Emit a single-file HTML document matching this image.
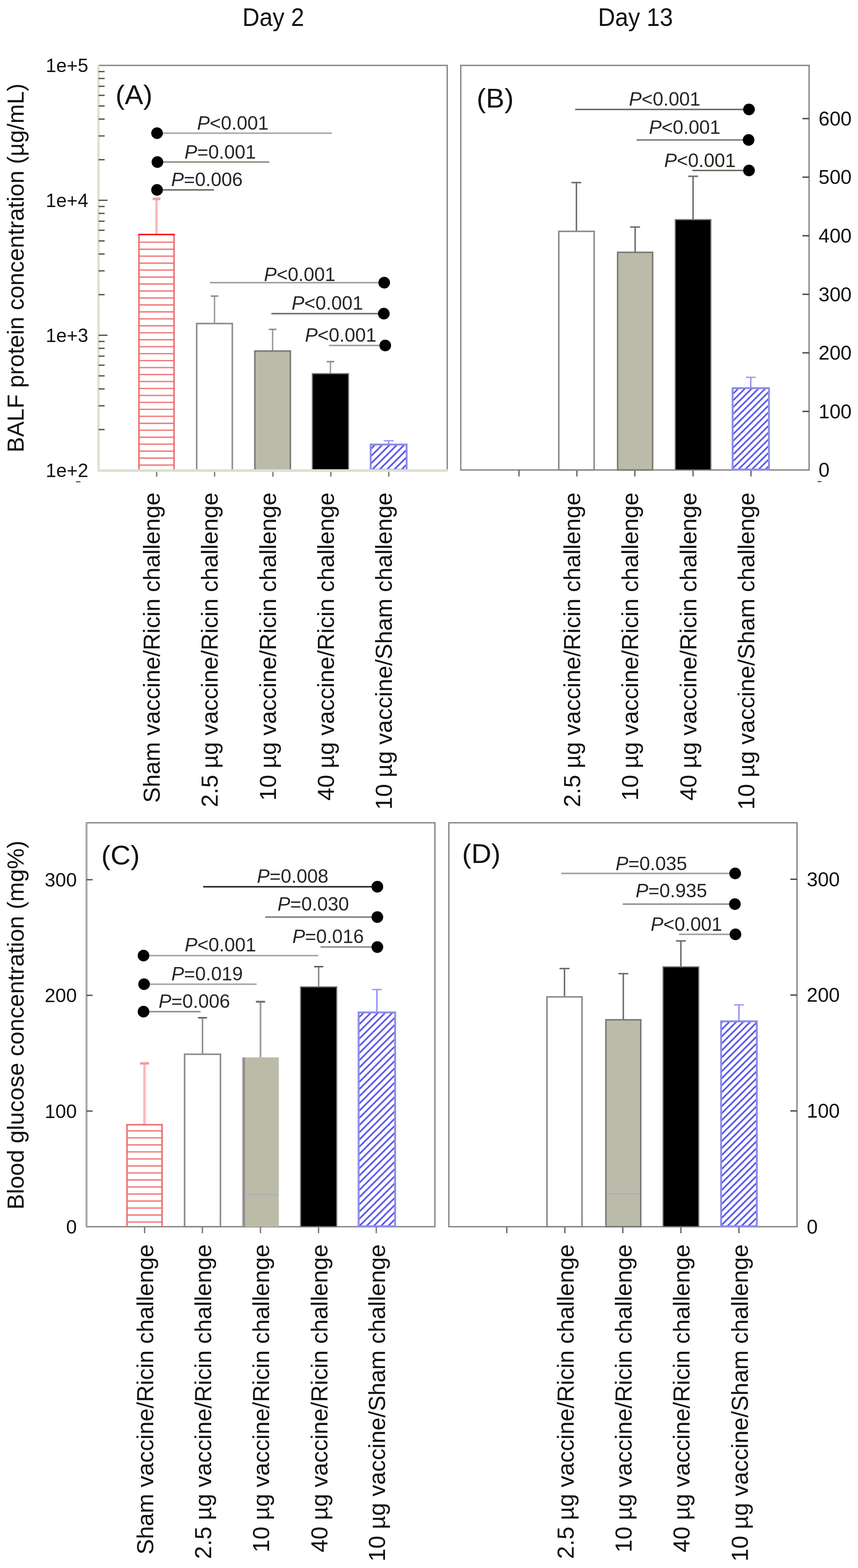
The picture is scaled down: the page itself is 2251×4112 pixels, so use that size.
<!DOCTYPE html>
<html><head><meta charset="utf-8"><title>BALF protein and blood glucose</title>
<style>
html,body{margin:0;padding:0;background:#fff;}
svg{display:block;}
text{font-family:"Liberation Sans", Arial, sans-serif;fill:#111;}
</style></head><body>
<svg width="2251" height="4112" viewBox="0 0 2251 4112">
<defs>
<pattern id="hbA" patternUnits="userSpaceOnUse" width="19.2" height="19.2">
<path d="M-4.80,4.80 l9.60,-9.60 M0,19.2 l19.2,-19.2 M14.40,24.00 l9.60,-9.60" stroke="#5656ee" stroke-width="4.3"/>
</pattern>
<pattern id="hbB" patternUnits="userSpaceOnUse" width="17.7" height="17.7">
<path d="M-4.42,4.42 l8.85,-8.85 M0,17.7 l17.7,-17.7 M13.27,22.12 l8.85,-8.85" stroke="#5656ee" stroke-width="4.3"/>
</pattern>
<pattern id="hbC" patternUnits="userSpaceOnUse" width="18.9" height="18.9">
<path d="M-4.72,4.72 l9.45,-9.45 M0,18.9 l18.9,-18.9 M14.17,23.62 l9.45,-9.45" stroke="#5656ee" stroke-width="4.3"/>
</pattern>
<pattern id="hbD" patternUnits="userSpaceOnUse" width="18.3" height="18.3">
<path d="M-4.58,4.58 l9.15,-9.15 M0,18.3 l18.3,-18.3 M13.73,22.88 l9.15,-9.15" stroke="#5656ee" stroke-width="4.3"/>
</pattern>
</defs>
<rect width="2251" height="4112" fill="#fff"/>

<text transform="translate(636,67.5) scale(1,1.07)" font-size="62">Day 2</text>
<text transform="translate(1569,67.5) scale(1,1.07)" font-size="62">Day 13</text>
<line x1="258.5" y1="171.5" x2="1175.0" y2="171.5" stroke="#858585" stroke-width="3.5"/>
<line x1="1173.3" y1="171.5" x2="1173.3" y2="1233.0" stroke="#858585" stroke-width="3.5"/>
<line x1="258.5" y1="171.5" x2="258.5" y2="1237.0" stroke="#e0e0d0" stroke-width="6"/>
<line x1="258.5" y1="1126.5" x2="274.5" y2="1126.5" stroke="#555" stroke-width="3.5"/>
<line x1="258.5" y1="1064.2" x2="274.5" y2="1064.2" stroke="#555" stroke-width="3.5"/>
<line x1="258.5" y1="1020.0" x2="274.5" y2="1020.0" stroke="#555" stroke-width="3.5"/>
<line x1="258.5" y1="985.7" x2="274.5" y2="985.7" stroke="#555" stroke-width="3.5"/>
<line x1="258.5" y1="957.7" x2="274.5" y2="957.7" stroke="#555" stroke-width="3.5"/>
<line x1="258.5" y1="934.0" x2="274.5" y2="934.0" stroke="#555" stroke-width="3.5"/>
<line x1="258.5" y1="913.5" x2="274.5" y2="913.5" stroke="#555" stroke-width="3.5"/>
<line x1="258.5" y1="895.4" x2="274.5" y2="895.4" stroke="#555" stroke-width="3.5"/>
<line x1="258.5" y1="879.2" x2="282.0" y2="879.2" stroke="#555" stroke-width="3.5"/>
<line x1="258.5" y1="772.7" x2="274.5" y2="772.7" stroke="#555" stroke-width="3.5"/>
<line x1="258.5" y1="710.3" x2="274.5" y2="710.3" stroke="#555" stroke-width="3.5"/>
<line x1="258.5" y1="666.1" x2="274.5" y2="666.1" stroke="#555" stroke-width="3.5"/>
<line x1="258.5" y1="631.8" x2="274.5" y2="631.8" stroke="#555" stroke-width="3.5"/>
<line x1="258.5" y1="603.8" x2="274.5" y2="603.8" stroke="#555" stroke-width="3.5"/>
<line x1="258.5" y1="580.1" x2="274.5" y2="580.1" stroke="#555" stroke-width="3.5"/>
<line x1="258.5" y1="559.6" x2="274.5" y2="559.6" stroke="#555" stroke-width="3.5"/>
<line x1="258.5" y1="541.5" x2="274.5" y2="541.5" stroke="#555" stroke-width="3.5"/>
<line x1="258.5" y1="525.3" x2="282.0" y2="525.3" stroke="#555" stroke-width="3.5"/>
<line x1="258.5" y1="418.8" x2="274.5" y2="418.8" stroke="#555" stroke-width="3.5"/>
<line x1="258.5" y1="356.5" x2="274.5" y2="356.5" stroke="#555" stroke-width="3.5"/>
<line x1="258.5" y1="312.3" x2="274.5" y2="312.3" stroke="#555" stroke-width="3.5"/>
<line x1="258.5" y1="278.0" x2="274.5" y2="278.0" stroke="#555" stroke-width="3.5"/>
<line x1="258.5" y1="250.0" x2="274.5" y2="250.0" stroke="#555" stroke-width="3.5"/>
<line x1="258.5" y1="226.3" x2="274.5" y2="226.3" stroke="#555" stroke-width="3.5"/>
<line x1="258.5" y1="205.8" x2="274.5" y2="205.8" stroke="#555" stroke-width="3.5"/>
<line x1="258.5" y1="187.7" x2="274.5" y2="187.7" stroke="#555" stroke-width="3.5"/>
<text x="231.5" y="189.1" font-size="49.5" text-anchor="end" >1e+5</text>
<text x="231.5" y="542.9" font-size="49.5" text-anchor="end" >1e+4</text>
<text x="231.5" y="896.8" font-size="49.5" text-anchor="end" >1e+3</text>
<text x="231.5" y="1250.6" font-size="49.5" text-anchor="end" >1e+2</text>
<line x1="411.0" y1="1235.0" x2="411.0" y2="1250.0" stroke="#7a7a7a" stroke-width="3.5"/>
<line x1="563.0" y1="1235.0" x2="563.0" y2="1250.0" stroke="#7a7a7a" stroke-width="3.5"/>
<line x1="716.0" y1="1235.0" x2="716.0" y2="1250.0" stroke="#7a7a7a" stroke-width="3.5"/>
<line x1="868.0" y1="1235.0" x2="868.0" y2="1250.0" stroke="#7a7a7a" stroke-width="3.5"/>
<line x1="1020.0" y1="1235.0" x2="1020.0" y2="1250.0" stroke="#7a7a7a" stroke-width="3.5"/>
<line x1="410.6" y1="615.0" x2="410.6" y2="521.5" stroke="#ffb8b8" stroke-width="6.5"/>
<line x1="400.6" y1="521.5" x2="420.6" y2="521.5" stroke="#f59a9a" stroke-width="6.5"/>
<g stroke="#f27c7c" stroke-width="3.6">
<line x1="364.5" y1="635.3" x2="456.6" y2="635.3"/>
<line x1="364.5" y1="653.6" x2="456.6" y2="653.6"/>
<line x1="364.5" y1="671.8" x2="456.6" y2="671.8"/>
<line x1="364.5" y1="690.1" x2="456.6" y2="690.1"/>
<line x1="364.5" y1="708.3" x2="456.6" y2="708.3"/>
<line x1="364.5" y1="726.6" x2="456.6" y2="726.6"/>
<line x1="364.5" y1="744.9" x2="456.6" y2="744.9"/>
<line x1="364.5" y1="763.1" x2="456.6" y2="763.1"/>
<line x1="364.5" y1="781.4" x2="456.6" y2="781.4"/>
<line x1="364.5" y1="799.6" x2="456.6" y2="799.6"/>
<line x1="364.5" y1="817.9" x2="456.6" y2="817.9"/>
<line x1="364.5" y1="836.2" x2="456.6" y2="836.2"/>
<line x1="364.5" y1="854.4" x2="456.6" y2="854.4"/>
<line x1="364.5" y1="872.7" x2="456.6" y2="872.7"/>
<line x1="364.5" y1="890.9" x2="456.6" y2="890.9"/>
<line x1="364.5" y1="909.2" x2="456.6" y2="909.2"/>
<line x1="364.5" y1="927.5" x2="456.6" y2="927.5"/>
<line x1="364.5" y1="945.7" x2="456.6" y2="945.7"/>
<line x1="364.5" y1="964.0" x2="456.6" y2="964.0"/>
<line x1="364.5" y1="982.2" x2="456.6" y2="982.2"/>
<line x1="364.5" y1="1000.5" x2="456.6" y2="1000.5"/>
<line x1="364.5" y1="1018.8" x2="456.6" y2="1018.8"/>
<line x1="364.5" y1="1037.0" x2="456.6" y2="1037.0"/>
<line x1="364.5" y1="1055.3" x2="456.6" y2="1055.3"/>
<line x1="364.5" y1="1073.5" x2="456.6" y2="1073.5"/>
<line x1="364.5" y1="1091.8" x2="456.6" y2="1091.8"/>
<line x1="364.5" y1="1110.1" x2="456.6" y2="1110.1"/>
<line x1="364.5" y1="1128.3" x2="456.6" y2="1128.3"/>
<line x1="364.5" y1="1146.6" x2="456.6" y2="1146.6"/>
<line x1="364.5" y1="1164.8" x2="456.6" y2="1164.8"/>
<line x1="364.5" y1="1183.1" x2="456.6" y2="1183.1"/>
<line x1="364.5" y1="1201.4" x2="456.6" y2="1201.4"/>
<line x1="364.5" y1="1219.6" x2="456.6" y2="1219.6"/>
</g>
<line x1="364.5" y1="615.0" x2="364.5" y2="1233.0" stroke="#ec6f6f" stroke-width="4"/>
<line x1="456.6" y1="615.0" x2="456.6" y2="1233.0" stroke="#ec6f6f" stroke-width="4"/>
<line x1="362.5" y1="615.0" x2="458.6" y2="615.0" stroke="#ff1010" stroke-width="4"/>
<line x1="562.8" y1="848.5" x2="562.8" y2="776.5" stroke="#9c9c9c" stroke-width="3.8"/>
<line x1="552.8" y1="776.5" x2="572.8" y2="776.5" stroke="#8a8a8a" stroke-width="3.8"/>
<rect x="516.0" y="848.5" width="93.5" height="384.5" fill="#fff" stroke="#8a8a8a" stroke-width="4"/>
<line x1="715.2" y1="920.5" x2="715.2" y2="863.8" stroke="#9c9c9c" stroke-width="3.8"/>
<line x1="705.2" y1="863.8" x2="725.2" y2="863.8" stroke="#8a8a8a" stroke-width="3.8"/>
<rect x="668.6" y="920.5" width="93.1" height="312.5" fill="#bbbbab" stroke="#7a7a72" stroke-width="4"/>
<line x1="867.0" y1="979.8" x2="867.0" y2="948.3" stroke="#9c9c9c" stroke-width="3.8"/>
<line x1="857.0" y1="948.3" x2="877.0" y2="948.3" stroke="#8a8a8a" stroke-width="3.8"/>
<rect x="819.4" y="979.8" width="95.1" height="253.2" fill="#000" stroke="#7a7a7a" stroke-width="3"/>
<line x1="1019.6" y1="1165.8" x2="1019.6" y2="1155.8" stroke="#8a8af5" stroke-width="3.5"/>
<line x1="1006.6" y1="1155.8" x2="1032.7" y2="1155.8" stroke="#9a9af8" stroke-width="3.5"/>
<rect x="972.5" y="1165.8" width="94.3" height="66.2" fill="url(#hbA)" stroke="#8c8ce8" stroke-width="5"/>
<line x1="258.5" y1="1234.0" x2="1175.0" y2="1234.0" stroke="#dfdfcf" stroke-width="7"/>
<text transform="translate(303.0,272.5) scale(1.04,1)" font-size="70">(A)</text>
<line x1="412.0" y1="349.3" x2="870.5" y2="349.3" stroke="#a9a9a1" stroke-width="4"/>
<circle cx="412.0" cy="349.3" r="15.3" fill="#000"/>
<line x1="414.0" y1="425.0" x2="706.4" y2="425.0" stroke="#909080" stroke-width="4"/>
<circle cx="413.0" cy="425.0" r="15.3" fill="#000"/>
<line x1="412.0" y1="498.0" x2="561.4" y2="498.0" stroke="#707060" stroke-width="4"/>
<circle cx="412.0" cy="498.0" r="15.3" fill="#000"/>
<text x="517.0" y="340.0" font-size="50" style="fill:#262626"><tspan font-style="italic">P</tspan>&lt;0.001</text>
<text x="484.0" y="415.7" font-size="50" style="fill:#262626"><tspan font-style="italic">P</tspan>=0.001</text>
<text x="449.0" y="487.6" font-size="50" style="fill:#262626"><tspan font-style="italic">P</tspan>=0.006</text>
<line x1="551.0" y1="741.3" x2="1008.0" y2="741.3" stroke="#a0a0a0" stroke-width="4"/>
<circle cx="1008.0" cy="741.3" r="15.3" fill="#000"/>
<line x1="712.0" y1="822.5" x2="1007.0" y2="822.5" stroke="#707060" stroke-width="4"/>
<circle cx="1007.0" cy="822.5" r="15.3" fill="#000"/>
<line x1="863.0" y1="906.0" x2="1010.7" y2="906.0" stroke="#a0a098" stroke-width="4"/>
<circle cx="1010.7" cy="906.0" r="15.3" fill="#000"/>
<text x="692.5" y="737.4" font-size="50" style="fill:#262626"><tspan font-style="italic">P</tspan>&lt;0.001</text>
<text x="765.0" y="812.0" font-size="50" style="fill:#262626"><tspan font-style="italic">P</tspan>&lt;0.001</text>
<text x="800.0" y="896.4" font-size="50" style="fill:#262626"><tspan font-style="italic">P</tspan>&lt;0.001</text>
<text transform="translate(62.0,1186.5) rotate(-90)" font-size="61" text-anchor="start" >BALF protein concentration (µg/mL)</text>
<line x1="199.0" y1="1263.5" x2="211.0" y2="1263.5" stroke="#555" stroke-width="3"/>
<rect x="1208.8" y="171.5" width="913.9" height="1061.0" fill="none" stroke="#858585" stroke-width="3.5"/>
<text x="2147.5" y="1250.3" font-size="52" text-anchor="start" >0</text>
<line x1="2105.2" y1="1078.9" x2="2122.7" y2="1078.9" stroke="#444" stroke-width="3.5"/>
<text x="2147.5" y="1096.7" font-size="52" text-anchor="start" >100</text>
<line x1="2105.2" y1="925.3" x2="2122.7" y2="925.3" stroke="#444" stroke-width="3.5"/>
<text x="2147.5" y="943.1" font-size="52" text-anchor="start" >200</text>
<line x1="2105.2" y1="771.8" x2="2122.7" y2="771.8" stroke="#444" stroke-width="3.5"/>
<text x="2147.5" y="789.5" font-size="52" text-anchor="start" >300</text>
<line x1="2105.2" y1="618.2" x2="2122.7" y2="618.2" stroke="#444" stroke-width="3.5"/>
<text x="2147.5" y="636.0" font-size="52" text-anchor="start" >400</text>
<line x1="2105.2" y1="464.6" x2="2122.7" y2="464.6" stroke="#444" stroke-width="3.5"/>
<text x="2147.5" y="482.4" font-size="52" text-anchor="start" >500</text>
<line x1="2105.2" y1="311.0" x2="2122.7" y2="311.0" stroke="#444" stroke-width="3.5"/>
<text x="2147.5" y="328.8" font-size="52" text-anchor="start" >600</text>
<line x1="1361.6" y1="1232.5" x2="1361.6" y2="1249.5" stroke="#666" stroke-width="3.5"/>
<line x1="1513.5" y1="1232.5" x2="1513.5" y2="1249.5" stroke="#666" stroke-width="3.5"/>
<line x1="1665.5" y1="1232.5" x2="1665.5" y2="1249.5" stroke="#666" stroke-width="3.5"/>
<line x1="1818.3" y1="1232.5" x2="1818.3" y2="1249.5" stroke="#666" stroke-width="3.5"/>
<line x1="1970.3" y1="1232.5" x2="1970.3" y2="1249.5" stroke="#666" stroke-width="3.5"/>
<line x1="1512.3" y1="606.7" x2="1512.3" y2="478.8" stroke="#6a6a6a" stroke-width="3.8"/>
<line x1="1499.3" y1="478.8" x2="1525.3" y2="478.8" stroke="#6a6a6a" stroke-width="3.8"/>
<rect x="1466.0" y="606.7" width="92.7" height="625.8" fill="#fff" stroke="#8a8a8a" stroke-width="4"/>
<line x1="1666.3" y1="661.7" x2="1666.3" y2="595.4" stroke="#6a6a6a" stroke-width="3.8"/>
<line x1="1653.3" y1="595.4" x2="1679.3" y2="595.4" stroke="#6a6a6a" stroke-width="3.8"/>
<rect x="1620.4" y="661.7" width="91.8" height="570.8" fill="#bbbbab" stroke="#7a7a72" stroke-width="4"/>
<line x1="1818.3" y1="575.9" x2="1818.3" y2="462.3" stroke="#6a6a6a" stroke-width="3.8"/>
<line x1="1805.3" y1="462.3" x2="1831.3" y2="462.3" stroke="#6a6a6a" stroke-width="3.8"/>
<rect x="1771.6" y="575.9" width="93.4" height="656.6" fill="#000" stroke="#7a7a7a" stroke-width="3"/>
<line x1="1969.7" y1="1017.9" x2="1969.7" y2="989.5" stroke="#8a8af5" stroke-width="3.5"/>
<line x1="1956.7" y1="989.5" x2="1982.7" y2="989.5" stroke="#9a9af8" stroke-width="3.5"/>
<rect x="1922.0" y="1017.9" width="95.4" height="213.6" fill="url(#hbB)" stroke="#8c8ce8" stroke-width="5"/>
<text transform="translate(1250.6,281.5) scale(1.04,1)" font-size="70">(B)</text>
<line x1="1508.8" y1="287.0" x2="1965.0" y2="287.0" stroke="#707060" stroke-width="4"/>
<circle cx="1965.0" cy="287.0" r="15.3" fill="#000"/>
<line x1="1670.0" y1="367.0" x2="1964.0" y2="367.0" stroke="#808080" stroke-width="4"/>
<circle cx="1964.0" cy="367.0" r="15.3" fill="#000"/>
<line x1="1816.3" y1="447.0" x2="1965.0" y2="447.0" stroke="#707060" stroke-width="4"/>
<circle cx="1965.0" cy="447.0" r="15.3" fill="#000"/>
<text x="1650.0" y="277.4" font-size="50" style="fill:#262626"><tspan font-style="italic">P</tspan>&lt;0.001</text>
<text x="1702.5" y="350.5" font-size="50" style="fill:#262626"><tspan font-style="italic">P</tspan>&lt;0.001</text>
<text x="1742.5" y="437.9" font-size="50" style="fill:#262626"><tspan font-style="italic">P</tspan>&lt;0.001</text>
<line x1="2145.0" y1="1263.0" x2="2155.0" y2="1263.0" stroke="#555" stroke-width="3"/>
<rect x="227.0" y="2157.7" width="914.0" height="1059.3" fill="none" stroke="#858585" stroke-width="3.5"/>
<line x1="227.0" y1="2157.7" x2="227.0" y2="3217.0" stroke="#a5a5a5" stroke-width="5"/>
<text x="201.5" y="3235.0" font-size="50.5" text-anchor="end" >0</text>
<line x1="227.0" y1="2913.7" x2="243.0" y2="2913.7" stroke="#555" stroke-width="3.5"/>
<text x="201.5" y="2931.7" font-size="50.5" text-anchor="end" >100</text>
<line x1="227.0" y1="2610.3" x2="243.0" y2="2610.3" stroke="#555" stroke-width="3.5"/>
<text x="201.5" y="2628.3" font-size="50.5" text-anchor="end" >200</text>
<line x1="227.0" y1="2307.0" x2="243.0" y2="2307.0" stroke="#555" stroke-width="3.5"/>
<text x="201.5" y="2325.0" font-size="50.5" text-anchor="end" >300</text>
<line x1="379.4" y1="3217.0" x2="379.4" y2="3234.0" stroke="#777" stroke-width="3.5"/>
<line x1="531.0" y1="3217.0" x2="531.0" y2="3234.0" stroke="#777" stroke-width="3.5"/>
<line x1="683.4" y1="3217.0" x2="683.4" y2="3234.0" stroke="#777" stroke-width="3.5"/>
<line x1="835.7" y1="3217.0" x2="835.7" y2="3234.0" stroke="#777" stroke-width="3.5"/>
<line x1="987.2" y1="3217.0" x2="987.2" y2="3234.0" stroke="#777" stroke-width="3.5"/>
<line x1="379.1" y1="2949.6" x2="379.1" y2="2788.7" stroke="#ffb8b8" stroke-width="6.5"/>
<line x1="367.1" y1="2788.7" x2="391.1" y2="2788.7" stroke="#f59a9a" stroke-width="6.5"/>
<g stroke="#f27c7c" stroke-width="3.6">
<line x1="333.2" y1="2965.6" x2="425.1" y2="2965.6"/>
<line x1="333.2" y1="2984.0" x2="425.1" y2="2984.0"/>
<line x1="333.2" y1="3002.4" x2="425.1" y2="3002.4"/>
<line x1="333.2" y1="3020.8" x2="425.1" y2="3020.8"/>
<line x1="333.2" y1="3039.2" x2="425.1" y2="3039.2"/>
<line x1="333.2" y1="3057.6" x2="425.1" y2="3057.6"/>
<line x1="333.2" y1="3076.0" x2="425.1" y2="3076.0"/>
<line x1="333.2" y1="3094.4" x2="425.1" y2="3094.4"/>
<line x1="333.2" y1="3112.8" x2="425.1" y2="3112.8"/>
<line x1="333.2" y1="3131.2" x2="425.1" y2="3131.2"/>
<line x1="333.2" y1="3149.6" x2="425.1" y2="3149.6"/>
<line x1="333.2" y1="3168.0" x2="425.1" y2="3168.0"/>
<line x1="333.2" y1="3186.4" x2="425.1" y2="3186.4"/>
<line x1="333.2" y1="3204.8" x2="425.1" y2="3204.8"/>
</g>
<line x1="333.2" y1="2949.6" x2="333.2" y2="3217.0" stroke="#ec6f6f" stroke-width="4"/>
<line x1="425.1" y1="2949.6" x2="425.1" y2="3217.0" stroke="#ec6f6f" stroke-width="4"/>
<line x1="331.2" y1="2949.6" x2="427.1" y2="2949.6" stroke="#ee6c6c" stroke-width="4"/>
<line x1="531.3" y1="2764.7" x2="531.3" y2="2669.0" stroke="#8a8a8a" stroke-width="3.8"/>
<line x1="519.3" y1="2669.0" x2="543.3" y2="2669.0" stroke="#5a5a5a" stroke-width="3.8"/>
<rect x="484.3" y="2764.7" width="94.0" height="452.3" fill="#fff" stroke="#8a8a8a" stroke-width="4"/>
<line x1="683.4" y1="2773.0" x2="683.4" y2="2627.0" stroke="#a5a5a5" stroke-width="5"/>
<line x1="671.4" y1="2627.0" x2="695.4" y2="2627.0" stroke="#707070" stroke-width="5"/>
<rect x="635.7" y="2773.0" width="95.8" height="444.0" fill="#bbbba8" stroke="none" stroke-width="0"/>
<line x1="639.5" y1="2773.0" x2="639.5" y2="3217.0" stroke="#929292" stroke-width="7"/>
<line x1="640.0" y1="3132.8" x2="729.0" y2="3132.8" stroke="#a0a0c0" stroke-width="1.5"/>
<line x1="836.0" y1="2588.0" x2="836.0" y2="2535.0" stroke="#8a8a8a" stroke-width="3.8"/>
<line x1="824.0" y1="2535.0" x2="848.0" y2="2535.0" stroke="#5a5a5a" stroke-width="3.8"/>
<rect x="788.5" y="2588.0" width="94.9" height="629.0" fill="#000" stroke="#7a7a7a" stroke-width="3"/>
<line x1="988.8" y1="2655.0" x2="988.8" y2="2595.0" stroke="#8a8af5" stroke-width="3.5"/>
<line x1="975.8" y1="2595.0" x2="1001.8" y2="2595.0" stroke="#9a9af8" stroke-width="3.5"/>
<rect x="940.9" y="2655.0" width="95.7" height="561.0" fill="url(#hbC)" stroke="#8c8ce8" stroke-width="5"/>
<text transform="translate(265.8,2266.5) scale(1.04,1)" font-size="70">(C)</text>
<line x1="532.9" y1="2325.4" x2="990.0" y2="2325.4" stroke="#252525" stroke-width="4"/>
<circle cx="990.0" cy="2325.4" r="15.3" fill="#000"/>
<line x1="695.8" y1="2405.0" x2="990.0" y2="2405.0" stroke="#808080" stroke-width="4"/>
<circle cx="990.0" cy="2405.0" r="15.3" fill="#000"/>
<line x1="841.0" y1="2483.6" x2="990.0" y2="2483.6" stroke="#8a8a8a" stroke-width="4"/>
<circle cx="990.0" cy="2483.6" r="15.3" fill="#000"/>
<text x="674.0" y="2315.0" font-size="50" style="fill:#262626"><tspan font-style="italic">P</tspan>=0.008</text>
<text x="728.0" y="2387.7" font-size="50" style="fill:#262626"><tspan font-style="italic">P</tspan>=0.030</text>
<text x="767.0" y="2472.9" font-size="50" style="fill:#262626"><tspan font-style="italic">P</tspan>=0.016</text>
<line x1="376.5" y1="2506.0" x2="835.3" y2="2506.0" stroke="#a8a8a0" stroke-width="4"/>
<circle cx="376.5" cy="2506.0" r="15.3" fill="#000"/>
<line x1="378.4" y1="2581.0" x2="673.3" y2="2581.0" stroke="#a8a8a0" stroke-width="4"/>
<circle cx="378.0" cy="2581.0" r="15.3" fill="#000"/>
<line x1="376.5" y1="2653.0" x2="526.3" y2="2653.0" stroke="#909090" stroke-width="4"/>
<circle cx="376.5" cy="2653.0" r="15.3" fill="#000"/>
<text x="484.5" y="2495.4" font-size="50" style="fill:#262626"><tspan font-style="italic">P</tspan>&lt;0.001</text>
<text x="449.5" y="2571.0" font-size="50" style="fill:#262626"><tspan font-style="italic">P</tspan>=0.019</text>
<text x="416.0" y="2642.8" font-size="50" style="fill:#262626"><tspan font-style="italic">P</tspan>=0.006</text>
<text transform="translate(62.0,3172.0) rotate(-90)" font-size="61.3" text-anchor="start" >Blood glucose concentration (mg%)</text>
<rect x="1177.5" y="2157.7" width="913.5" height="1059.3" fill="none" stroke="#858585" stroke-width="3.5"/>
<text x="2116.5" y="3234.8" font-size="52" text-anchor="start" >0</text>
<line x1="2073.5" y1="2913.3" x2="2091.0" y2="2913.3" stroke="#444" stroke-width="3.5"/>
<text x="2116.5" y="2931.1" font-size="52" text-anchor="start" >100</text>
<line x1="2073.5" y1="2609.5" x2="2091.0" y2="2609.5" stroke="#444" stroke-width="3.5"/>
<text x="2116.5" y="2627.3" font-size="52" text-anchor="start" >200</text>
<line x1="2073.5" y1="2305.8" x2="2091.0" y2="2305.8" stroke="#444" stroke-width="3.5"/>
<text x="2116.5" y="2323.6" font-size="52" text-anchor="start" >300</text>
<line x1="1329.6" y1="3217.0" x2="1329.6" y2="3234.0" stroke="#666" stroke-width="3.5"/>
<line x1="1481.9" y1="3217.0" x2="1481.9" y2="3234.0" stroke="#666" stroke-width="3.5"/>
<line x1="1634.0" y1="3217.0" x2="1634.0" y2="3234.0" stroke="#666" stroke-width="3.5"/>
<line x1="1786.4" y1="3217.0" x2="1786.4" y2="3234.0" stroke="#666" stroke-width="3.5"/>
<line x1="1938.6" y1="3217.0" x2="1938.6" y2="3234.0" stroke="#666" stroke-width="3.5"/>
<line x1="1481.0" y1="2614.3" x2="1481.0" y2="2540.0" stroke="#6a6a6a" stroke-width="3.8"/>
<line x1="1468.0" y1="2540.0" x2="1494.0" y2="2540.0" stroke="#6a6a6a" stroke-width="3.8"/>
<rect x="1435.0" y="2614.3" width="92.0" height="602.7" fill="#fff" stroke="#8a8a8a" stroke-width="4"/>
<line x1="1635.3" y1="2674.4" x2="1635.3" y2="2553.4" stroke="#6a6a6a" stroke-width="3.8"/>
<line x1="1622.3" y1="2553.4" x2="1648.3" y2="2553.4" stroke="#6a6a6a" stroke-width="3.8"/>
<rect x="1589.6" y="2674.4" width="91.4" height="542.6" fill="#bbbbab" stroke="#7a7a72" stroke-width="4"/>
<line x1="1593.0" y1="3131.0" x2="1678.0" y2="3131.0" stroke="#a0a0c0" stroke-width="1.5"/>
<line x1="1786.3" y1="2535.4" x2="1786.3" y2="2467.5" stroke="#6a6a6a" stroke-width="3.8"/>
<line x1="1773.3" y1="2467.5" x2="1799.3" y2="2467.5" stroke="#6a6a6a" stroke-width="3.8"/>
<rect x="1739.5" y="2535.4" width="93.7" height="681.6" fill="#000" stroke="#7a7a7a" stroke-width="3"/>
<line x1="1938.7" y1="2678.3" x2="1938.7" y2="2635.3" stroke="#8a8af5" stroke-width="3.5"/>
<line x1="1925.7" y1="2635.3" x2="1951.7" y2="2635.3" stroke="#9a9af8" stroke-width="3.5"/>
<rect x="1891.8" y="2678.3" width="93.7" height="537.7" fill="url(#hbD)" stroke="#8c8ce8" stroke-width="5"/>
<text transform="translate(1212.2,2263.0) scale(1.04,1)" font-size="70">(D)</text>
<line x1="1473.0" y1="2290.5" x2="1928.7" y2="2290.5" stroke="#a0a0a0" stroke-width="4"/>
<circle cx="1928.7" cy="2290.5" r="15.3" fill="#000"/>
<line x1="1633.8" y1="2371.0" x2="1928.0" y2="2371.0" stroke="#909090" stroke-width="4"/>
<circle cx="1928.0" cy="2371.0" r="15.3" fill="#000"/>
<line x1="1781.3" y1="2450.2" x2="1929.5" y2="2450.2" stroke="#a0a0a0" stroke-width="4"/>
<circle cx="1929.5" cy="2450.2" r="15.3" fill="#000"/>
<text x="1615.0" y="2281.7" font-size="50" style="fill:#262626"><tspan font-style="italic">P</tspan>=0.035</text>
<text x="1667.5" y="2353.3" font-size="50" style="fill:#262626"><tspan font-style="italic">P</tspan>=0.935</text>
<text x="1707.0" y="2440.6" font-size="50" style="fill:#262626"><tspan font-style="italic">P</tspan>&lt;0.001</text>
<text transform="translate(418.5,1291.5) rotate(-90)" font-size="61" text-anchor="end" >Sham vaccine/Ricin challenge</text>
<text transform="translate(570.5,1291.5) rotate(-90)" font-size="61" text-anchor="end" >2.5 µg vaccine/Ricin challenge</text>
<text transform="translate(723.5,1291.5) rotate(-90)" font-size="61" text-anchor="end" >10 µg vaccine/Ricin challenge</text>
<text transform="translate(875.5,1291.5) rotate(-90)" font-size="61" text-anchor="end" >40 µg vaccine/Ricin challenge</text>
<text transform="translate(1027.5,1291.5) rotate(-90)" font-size="61" text-anchor="end" >10 µg vaccine/Sham challenge</text>
<text transform="translate(1522.0,1291.5) rotate(-90)" font-size="61" text-anchor="end" >2.5 µg vaccine/Ricin challenge</text>
<text transform="translate(1674.0,1291.5) rotate(-90)" font-size="61" text-anchor="end" >10 µg vaccine/Ricin challenge</text>
<text transform="translate(1826.8,1291.5) rotate(-90)" font-size="61" text-anchor="end" >40 µg vaccine/Ricin challenge</text>
<text transform="translate(1978.8,1291.5) rotate(-90)" font-size="61" text-anchor="end" >10 µg vaccine/Sham challenge</text>
<text transform="translate(402.4,3263.0) rotate(-90)" font-size="61" text-anchor="end" >Sham vaccine/Ricin challenge</text>
<text transform="translate(554.0,3263.0) rotate(-90)" font-size="61" text-anchor="end" >2.5 µg vaccine/Ricin challenge</text>
<text transform="translate(706.4,3263.0) rotate(-90)" font-size="61" text-anchor="end" >10 µg vaccine/Ricin challenge</text>
<text transform="translate(858.7,3263.0) rotate(-90)" font-size="61" text-anchor="end" >40 µg vaccine/Ricin challenge</text>
<text transform="translate(1010.2,3263.0) rotate(-90)" font-size="61" text-anchor="end" >10 µg vaccine/Sham challenge</text>
<text transform="translate(1504.9,3263.0) rotate(-90)" font-size="61" text-anchor="end" >2.5 µg vaccine/Ricin challenge</text>
<text transform="translate(1657.0,3263.0) rotate(-90)" font-size="61" text-anchor="end" >10 µg vaccine/Ricin challenge</text>
<text transform="translate(1809.4,3263.0) rotate(-90)" font-size="61" text-anchor="end" >40 µg vaccine/Ricin challenge</text>
<text transform="translate(1961.6,3263.0) rotate(-90)" font-size="61" text-anchor="end" >10 µg vaccine/Sham challenge</text>
</svg></body></html>
